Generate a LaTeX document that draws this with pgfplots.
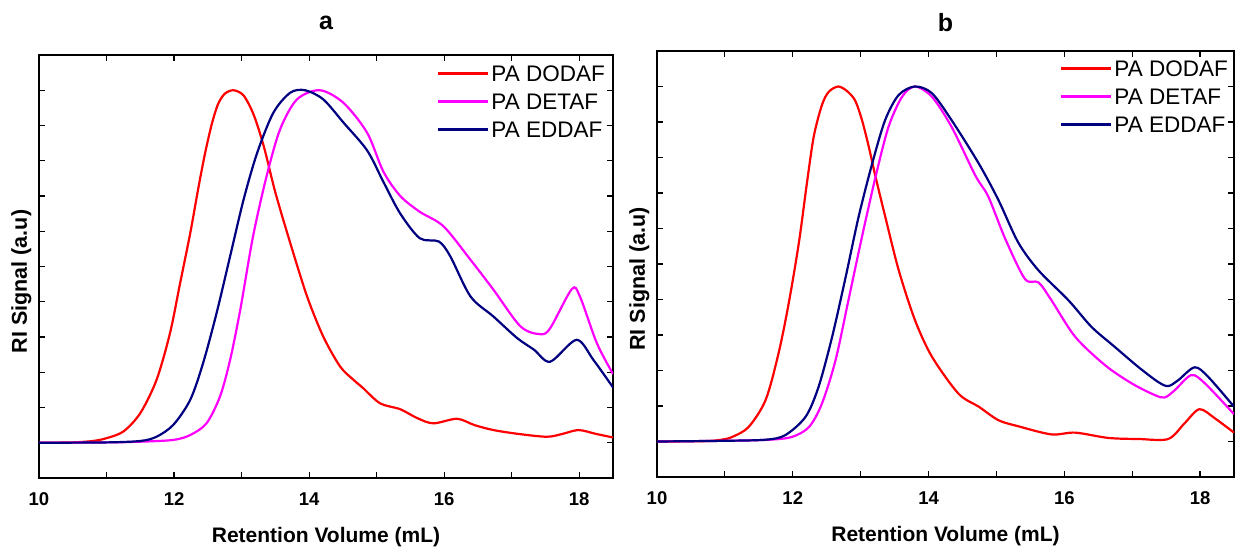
\documentclass[border=0pt]{standalone}
\usepackage{fontspec}
\setmainfont{Liberation Sans}
\usepackage{pgfplots}
\pgfplotsset{compat=1.18}

\definecolor{cRed}{HTML}{FF0000}
\definecolor{cMag}{HTML}{FF00FF}
\definecolor{cNavy}{HTML}{000080}

\pgfplotsset{
  gpcpanel/.style={
    scale only axis,
    xmin=10, xmax=18.5,
    ymin=-1, ymax=11,
    xtick={10,12,14,16,18},
    minor xtick={11,13,15,17},
    ytick={0,...,10},
    yticklabels={},
    tick align=inside,
    major tick length=6bp,
    minor tick length=6bp,
    every tick/.style={black, line width=1.2bp},
    axis line style={line width=1.6bp},
    /pgf/number format/assume math mode=true,
    xticklabel style={font=\fontsize{18.5bp}{20bp}\selectfont\bfseries, yshift=-11bp},
    xlabel={Retention Volume (mL)},
    ylabel={RI Signal (a.u)},
    xlabel style={font=\fontsize{21bp}{24bp}\selectfont\bfseries,
      at={(axis description cs:0.5,0)}, anchor=base, yshift=-64bp},
    ylabel style={font=\fontsize{21.5bp}{24bp}\selectfont\bfseries,
      at={(axis description cs:0,0.5)}, anchor=south, xshift=-15bp, yshift=4bp},
    title style={font=\fontsize{25bp}{28bp}\selectfont\bfseries,
      at={(axis description cs:0.5,1)}, anchor=base},
    legend style={at={(axis description cs:1,1)}, anchor=north east,
      draw=none, fill=none, inner sep=0pt, row sep=7.5bp,
      font=\fontsize{22.5bp}{24bp}\selectfont,
      nodes={text height=16.5bp, text depth=0bp, inner sep=2bp}},
    legend cell align=left,
    legend image code/.code={\draw[#1, line width=2.2bp] (0bp,0bp) -- (50bp,0bp);},
    every axis plot/.append style={line width=2.2bp, smooth, tension=0.5, no markers},
  }
}

\begin{document}
\begin{tikzpicture}
\useasboundingbox (0,0) rectangle (1236bp,550bp);

\begin{axis}[gpcpanel,
  at={(39bp,72bp)}, width=574bp, height=423bp,
  title={a}, title style={yshift=20bp},
  legend style={xshift=-6bp, yshift=-8bp}]
\addplot[cRed] coordinates {
(10,0) (10.5,0.01) (10.8,0.05) (11.00,0.13) (11.25,0.32) (11.50,0.84) (11.74,1.78)
(11.94,3.11) (12.09,4.53) (12.24,5.95) (12.36,7.23) (12.46,8.22) (12.56,9.05)
(12.65,9.60) (12.75,9.90) (12.88,10.0) (13.03,9.85) (13.18,9.30) (13.33,8.40)
(13.50,7.10) (13.72,5.67) (13.97,4.15) (14.21,3.01) (14.46,2.16) (14.66,1.78)
(14.80,1.55) (15.05,1.12) (15.35,0.95) (15.6,0.70) (15.84,0.55) (16.19,0.68)
(16.45,0.50) (16.73,0.36) (17.1,0.25) (17.52,0.17) (17.75,0.25) (17.99,0.36)
(18.25,0.25) (18.5,0.15)};
\addlegendentry{PA DODAF}
\addplot[cMag] coordinates {
(10,0) (11,0.01) (11.5,0.03) (11.99,0.08) (12.24,0.22) (12.48,0.55) (12.68,1.31)
(12.83,2.35) (12.98,3.77) (13.17,5.86) (13.37,7.56) (13.57,8.89) (13.82,9.74)
(14.16,10.0) (14.51,9.64) (14.86,8.79) (15.10,7.69) (15.35,7.0) (15.64,6.55)
(15.99,6.14) (16.39,5.19) (16.73,4.34) (17.13,3.30) (17.42,3.08) (17.57,3.25)
(17.89,4.36) (18.01,4.15) (18.26,2.83) (18.5,1.95)};
\addlegendentry{PA DETAF}
\addplot[cNavy] coordinates {
(10,0) (11,0.01) (11.50,0.05) (11.74,0.17) (11.99,0.51) (12.24,1.22) (12.43,2.26)
(12.63,3.68) (12.83,5.29) (13.03,6.90) (13.23,8.22) (13.47,9.36) (13.72,9.93)
(13.94,10.0) (14.21,9.74) (14.51,9.08) (14.86,8.29) (15.10,7.40) (15.35,6.50)
(15.64,5.80) (15.92,5.71) (16.09,5.29) (16.39,4.15) (16.73,3.58) (17.08,2.97)
(17.33,2.64) (17.57,2.30) (17.96,2.92) (18.21,2.35) (18.5,1.57)};
\addlegendentry{PA EDDAF}
\end{axis}

\begin{axis}[gpcpanel,
  at={(657bp,73bp)}, width=577bp, height=426bp,
  title={b}, title style={yshift=14bp},
  legend style={xshift=-4bp, yshift=-7bp}]
\addplot[cRed] coordinates {
(10,0) (10.7,0.01) (10.95,0.05) (11.11,0.13) (11.35,0.41) (11.60,1.17) (11.79,2.48)
(11.94,3.89) (12.09,5.60) (12.21,7.30) (12.31,8.60) (12.43,9.48) (12.53,9.85)
(12.67,10.0) (12.80,9.87) (12.92,9.60) (13.02,9.05) (13.12,8.30) (13.22,7.45)
(13.36,6.35) (13.56,4.83) (13.80,3.42) (14.05,2.39) (14.44,1.35) (14.74,0.98)
(15.03,0.60) (15.32,0.43) (15.81,0.20) (16.16,0.25) (16.65,0.10) (17.1,0.07)
(17.53,0.07) (17.77,0.51) (17.99,0.91) (18.22,0.65) (18.5,0.25)};
\addlegendentry{PA DODAF}
\addplot[cMag] coordinates {
(10,0) (11,0.02) (11.65,0.05) (11.99,0.13) (12.24,0.41) (12.43,1.07) (12.63,2.29)
(12.82,3.98) (13.02,5.77) (13.22,7.46) (13.41,8.86) (13.61,9.71) (13.80,10.0)
(14.05,9.71) (14.34,8.86) (14.69,7.49) (14.88,6.90) (15.13,5.71) (15.42,4.58)
(15.62,4.48) (15.81,3.98) (16.16,2.95) (16.60,2.15) (16.99,1.64) (17.33,1.31)
(17.48,1.24) (17.63,1.45) (17.87,1.87) (18.07,1.64) (18.5,0.77)};
\addlegendentry{PA DETAF}
\addplot[cNavy] coordinates {
(10,0) (11,0.02) (11.60,0.05) (11.89,0.18) (12.19,0.70) (12.38,1.54) (12.58,2.95)
(12.78,4.64) (12.97,6.33) (13.17,7.83) (13.36,9.05) (13.56,9.76) (13.80,10.0)
(14.05,9.81) (14.34,9.05) (14.74,7.83) (15.03,6.80) (15.32,5.61) (15.62,4.82)
(16.06,3.98) (16.40,3.23) (16.74,2.67) (17.09,2.10) (17.38,1.68) (17.53,1.56)
(17.68,1.73) (17.92,2.09) (18.12,1.82) (18.5,0.98)};
\addlegendentry{PA EDDAF}
\end{axis}
\end{tikzpicture}
\end{document}
